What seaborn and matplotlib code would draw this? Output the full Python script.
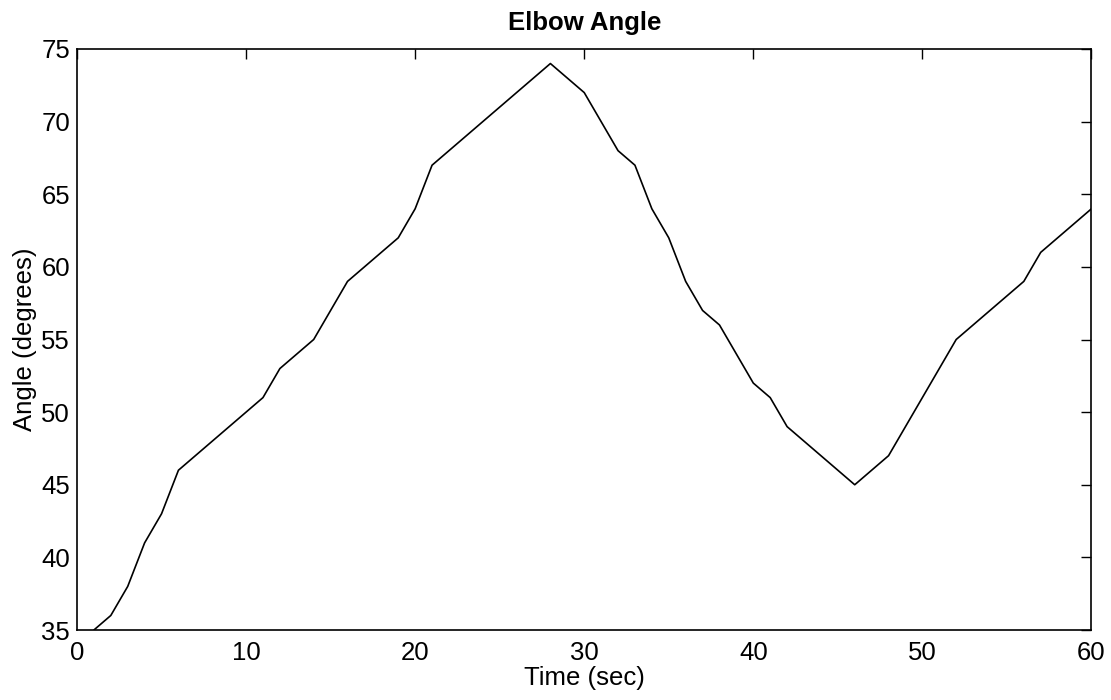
import matplotlib
matplotlib.use("Agg")
import matplotlib.pyplot as plt
import seaborn as sns
import pandas as pd

# Elbow joint angle sampled once per second
time_sec = [1, 2, 3, 4, 5, 6, 7, 8, 9, 10,
            11, 12, 13, 14, 15, 16, 17, 18, 19, 20,
            21, 22, 23, 24, 25, 26, 27, 28, 29, 30,
            31, 32, 33, 34, 35, 36, 37, 38, 39, 40,
            41, 42, 43, 44, 45, 46, 47, 48, 49, 50,
            51, 52, 53, 54, 55, 56, 57, 58, 59, 60]
angle_deg = [35, 36, 38, 41, 43, 46, 47, 48, 49, 50,
             51, 53, 54, 55, 57, 59, 60, 61, 62, 64,
             67, 68, 69, 70, 71, 72, 73, 74, 73, 72,
             70, 68, 67, 64, 62, 59, 57, 56, 54, 52,
             51, 49, 48, 47, 46, 45, 46, 47, 49, 51,
             53, 55, 56, 57, 58, 59, 61, 62, 63, 64]

x_ticks = [0, 10, 20, 30, 40, 50, 60]
y_ticks = [35, 40, 45, 50, 55, 60, 65, 70, 75]

sns.set_theme(style="white")
plt.rcParams["font.family"] = ["Liberation Sans", "DejaVu Sans"]

df = pd.DataFrame({"Time (sec)": time_sec, "Angle (degrees)": angle_deg})

fig = plt.figure(figsize=(11.11, 7.0), dpi=100)
ax = fig.add_axes([0.0693, 0.10, 0.9131, 0.83])

sns.lineplot(data=df, x="Time (sec)", y="Angle (degrees)", ax=ax,
             color="black", linewidth=1.2)

ax.set_xlim(0, 60)
ax.set_ylim(35, 75)
ax.set_xticks(x_ticks)
ax.set_yticks(y_ticks)

ax.tick_params(direction="in", length=7, width=1.0, colors="black",
               labelsize=18.5, top=True, right=True,
               labeltop=False, labelright=False)
ax.tick_params(axis="x", pad=8)
ax.tick_params(axis="y", pad=5)

for side in ["top", "right", "bottom", "left"]:
    ax.spines[side].set_visible(True)
    ax.spines[side].set_color("black")
    ax.spines[side].set_linewidth(1.2)

ax.set_xlabel("Time (sec)", fontsize=18.5, labelpad=1, color="black")
ax.set_ylabel("Angle (degrees)", fontsize=18.5, labelpad=3, color="black")
ax.set_title("Elbow Angle", fontsize=18.5, fontweight="bold", pad=14,
             color="black")

fig.savefig("out.png", dpi=100, facecolor="white")
